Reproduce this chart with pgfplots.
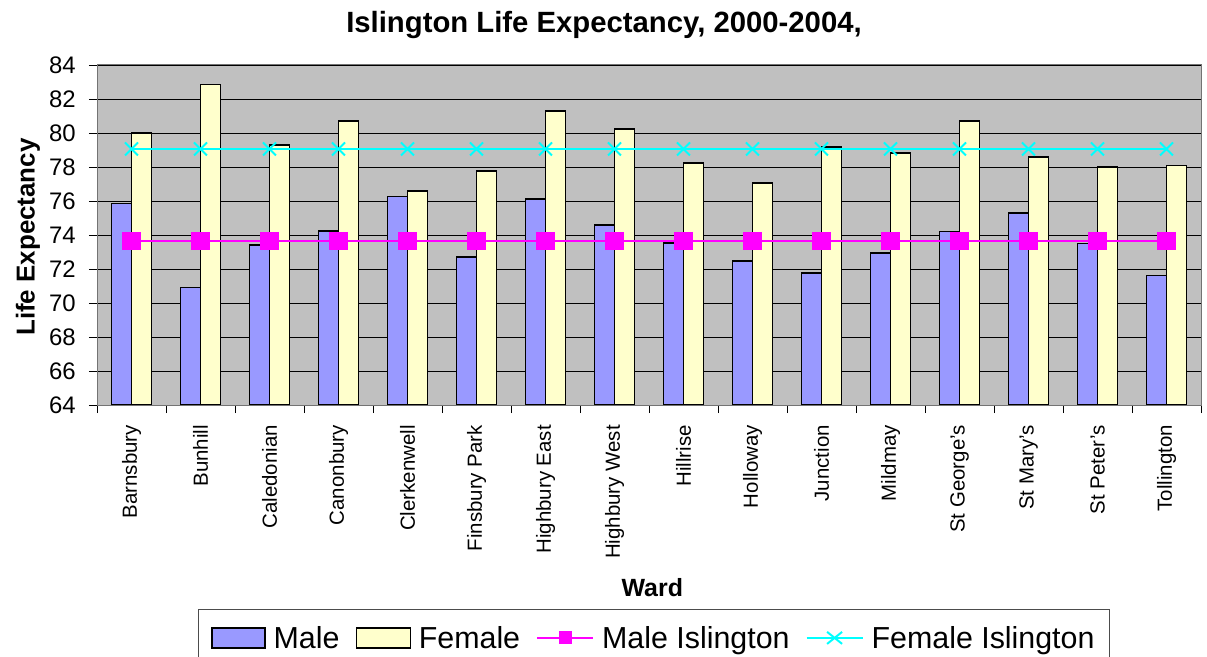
\documentclass[border=0pt]{standalone}
\usepackage{fontspec}
\setmainfont{Liberation Sans}
\usepackage{pgfplots}
\usepackage{pgfplotstable}
\pgfplotsset{compat=1.18}
\definecolor{malebar}{HTML}{9999FF}
\definecolor{femalebar}{HTML}{FFFFCC}
\definecolor{plotbg}{HTML}{C0C0C0}
\definecolor{mag}{HTML}{FF00FF}
\definecolor{cyn}{HTML}{00FFFF}
\pgfplotstableread{
x male female mi fi
0 75.86 80.00 73.65 79.06
1 70.92 82.84 73.65 79.06
2 73.41 79.29 73.65 79.06
3 74.24 80.70 73.65 79.06
4 76.25 76.59 73.65 79.06
5 72.70 77.76 73.65 79.06
6 76.12 81.29 73.65 79.06
7 74.60 80.24 73.65 79.06
8 73.53 78.24 73.65 79.06
9 72.47 77.06 73.65 79.06
10 71.76 79.18 73.65 79.06
11 72.94 78.82 73.65 79.06
12 74.20 80.70 73.65 79.06
13 75.30 78.59 73.65 79.06
14 73.50 78.00 73.65 79.06
15 71.63 78.10 73.65 79.06
}\data
\begin{document}
\begin{tikzpicture}
\useasboundingbox (0,0) rectangle (1207bp,657bp);
\node[font=\bfseries\fontsize{29.4}{33}\selectfont] at (604bp,632bp) {Islington Life Expectancy, 2000-2004,};
\begin{axis}[
  at={(97bp,252bp)}, anchor=south west,
  width=1104bp, height=340bp, scale only axis,
  xmin=-0.5, xmax=15.5, ymin=64, ymax=84,
  ytick={64,66,...,84},
  xtick={-0.5,0.5,...,15.5},
  x tick label as interval,
  xticklabels={Barnsbury,Bunhill,Caledonian,Canonbury,Clerkenwell,Finsbury Park,Highbury East,Highbury West,Hillrise,Holloway,Junction,Mildmay,St George's,St Mary's,St Peter's,Tollington},
  tick align=outside, tick pos=left,
  major tick length=8bp,
  tick style={black, line width=0.8bp},
  /pgf/number format/assume math mode=true,
  yticklabel style={font=\fontsize{24}{27}\selectfont, inner sep=0pt},
  yticklabel shift=13bp,
  xticklabel style={font=\fontsize{20.5}{24}\selectfont, rotate=90, anchor=east, inner sep=0pt},
  xticklabel shift=12bp,
  ymajorgrids,
  major grid style={black, line width=0.8bp},
  axis background/.style={fill=plotbg},
  axis line style={black!55, line width=1bp},
  xlabel={Ward},
  ylabel={Life Expectancy},
  xlabel style={font=\bfseries\fontsize{25}{28}\selectfont, at={(axis description cs:0.503,-0.538)}, anchor=center},
  ylabel style={font=\bfseries\fontsize{26}{29}\selectfont, at={(axis description cs:-0.0625,0.494)}, anchor=center, rotate=0},
  legend style={at={(axis description cs:0.5045,-0.685)}, anchor=center, legend columns=4,
    font=\fontsize{30.5}{34}\selectfont, draw=black!70, line width=1bp, inner xsep=13bp, inner ysep=15bp,
    /tikz/every odd column/.append style={column sep=6bp},
    /tikz/every even column/.append style={column sep=14bp}},
]
\addplot[fill=malebar, draw=black, line width=1.5bp, ybar, bar width=20bp, bar shift=-10bp,
  legend image code/.code={\draw[fill=malebar, draw=black, line width=1.3bp] (0bp,-10bp) rectangle (53bp,10bp);}]
  table[x=x,y=male]{\data};
\addlegendentry{Male}
\addplot[fill=femalebar, draw=black, line width=1.5bp, ybar, bar width=20bp, bar shift=10bp,
  legend image code/.code={\draw[fill=femalebar, draw=black, line width=1.3bp] (0bp,-10bp) rectangle (54bp,10bp);}]
  table[x=x,y=female]{\data};
\addlegendentry{Female}
\addplot[mag, line width=2bp, mark=square*, mark size=8.9bp, mark options={solid, fill=mag, line width=0bp},
  legend image code/.code={\draw[mag, line width=2bp] (0bp,0bp) -- (56bp,0bp); \fill[mag] (22.5bp,-5.5bp) rectangle (33.5bp,5.5bp);}]
  table[x=x,y=mi]{\data};
\addlegendentry{Male Islington}
\addplot[cyn, line width=2bp, mark=x, mark size=9.2bp, mark options={line width=2bp},
  legend image code/.code={\draw[cyn, line width=2bp] (0bp,0bp) -- (56bp,0bp); \draw[cyn, line width=2bp] (20.5bp,-6bp) -- (35.5bp,6bp) (20.5bp,6bp) -- (35.5bp,-6bp);}]
  table[x=x,y=fi]{\data};
\addlegendentry{Female Islington}
\end{axis}
\end{tikzpicture}
\end{document}
